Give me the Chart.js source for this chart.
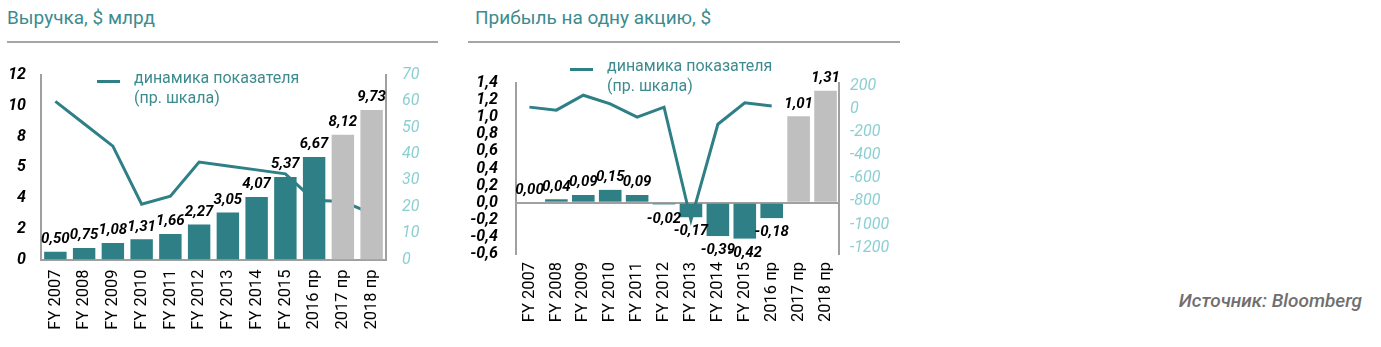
<!DOCTYPE html>
<html><head><meta charset="utf-8">
<script src="https://cdn.jsdelivr.net/npm/chart.js@4.4.0/dist/chart.umd.min.js"></script>
<style>
body{margin:0;width:1381px;height:347px;background:#fff;font-family:Roboto,sans-serif;position:relative;overflow:hidden}
.title{position:absolute;top:7px;font-size:19px;line-height:22px;color:#3d8b8f;white-space:nowrap}
.rule{position:absolute;top:41px;height:2px;background:#a6a6a6}
.box{position:absolute;top:60px;width:440px;height:287px}
.legend{position:absolute;font-size:16px;color:#3d8b8f;line-height:20px;padding-left:37px;white-space:nowrap;z-index:2}
.legend .ln{position:absolute;left:0;top:12px;width:23px;height:3px;background:#2e7f86}
.source{position:absolute;right:19px;top:290px;font-size:19px;line-height:22px;font-style:italic;font-weight:500;color:#6f6f6f}
</style></head>
<body>
<div class="title" style="left:7px">Выручка, $ млрд</div>
<div class="rule" style="left:7px;width:431px"></div>
<div class="title" style="left:475px">Прибыль на одну акцию, $</div>
<div class="rule" style="left:468px;width:432px"></div>
<div class="box" style="left:0"><canvas id="c1"></canvas></div>
<div class="box" style="left:460px"><canvas id="c2"></canvas></div>
<div class="legend" style="left:97px;top:68px"><div class="ln"></div>динамика показателя<br>(пр. шкала)</div>
<div class="legend" style="left:570px;top:56px"><div class="ln"></div>динамика показателя<br>(пр. шкала)</div>
<div class="source">Источник: Bloomberg</div>
<script>
const categories = ['FY 2007','FY 2008','FY 2009','FY 2010','FY 2011','FY 2012','FY 2013','FY 2014','FY 2015','2016 пр','2017 пр','2018 пр'];
const revenueValues = [0.50,0.75,1.08,1.31,1.66,2.27,3.05,4.07,5.37,6.67,8.12,9.73];
const revenueGrowth = [60,51.5,43,21,24,37,35.5,34,32.5,22.5,22,17.5];
const revenueTickValues = [0,2,4,6,8,10,12];
const revenueTickLabels = ['0','2','4','5','8','10','12'];
const revenueRightTicks = [0,10,20,30,40,50,60,70];
const epsValues = [0.00,0.04,0.09,0.15,0.09,-0.02,-0.17,-0.39,-0.42,-0.18,1.01,1.31];
const epsGrowth = [17,-9,120,45,-69,17,-961,-131,54,26,null,null];
const epsTickValues = [-0.6,-0.4,-0.2,0,0.2,0.4,0.6,0.8,1.0,1.2,1.4];
const epsRightTicks = [-1200,-1000,-800,-600,-400,-200,0,200];
const forecastFrom = 10;

const TEAL = '#2e7f86', GRAY = '#bfbfbf', AXIS = '#a0a0a0', RT = '#8ccfd3';
const FONT = 'Roboto';

const fmt = (v, d) => (Math.abs(v) < 1e-9 ? 0 : v).toFixed(d).replace('.', ',');

const barLabels = {
  id: 'barLabels',
  afterDatasetsDraw(chart) {
    const ctx = chart.ctx;
    const meta = chart.getDatasetMeta(0);
    const data = chart.data.datasets[0].data;
    ctx.save();
    ctx.font = 'italic bold 15px ' + FONT;
    ctx.fillStyle = '#000';
    ctx.textAlign = 'center';
    meta.data.forEach((el, i) => {
      const v = data[i];
      if (v < 0) { ctx.textBaseline = 'top'; ctx.fillText(fmt(v, 2), el.x, el.y + 7); }
      else { ctx.textBaseline = 'bottom'; ctx.fillText(fmt(v, 2), el.x, el.y - 5); }
    });
    ctx.restore();
  }
};

function noPad(s) { s.paddingTop = 0; s.paddingBottom = 0; }

function makeChart(id, bars, line, leftTicks, leftLabel, leftMin, leftMax, rightTicks, rightMin, rightMax, geo, zeroLine) {
  return new Chart(document.getElementById(id), {
    type: 'bar',
    data: {
      labels: categories,
      datasets: [
        { type: 'bar', data: bars, yAxisID: 'y', order: 0,
          backgroundColor: ctx => ctx.dataIndex >= forecastFrom ? GRAY : TEAL,
          barPercentage: geo.bp, categoryPercentage: 1 },
        { type: 'line', data: line, yAxisID: 'y1', order: 1,
          borderColor: TEAL, borderWidth: 3, pointRadius: 0, tension: 0, fill: false }
      ]
    },
    options: {
      responsive: false, animation: false,
      layout: { padding: { top: geo.top, left: 0, right: 0, bottom: 0 } },
      plugins: { legend: { display: false }, tooltip: { enabled: false } },
      scales: {
        x: {
          grid: { display: false, drawTicks: false },
          border: { display: !zeroLine, color: AXIS, width: 2 },
          ticks: { autoSkip: false, maxRotation: 90, minRotation: 90, padding: geo.xpad, color: '#000', font: { family: FONT, size: 16.5 } },
          afterFit: s => { s.height = geo.xh; }
        },
        y: {
          position: 'left', min: leftMin, max: leftMax,
          grid: zeroLine ? { display: true, drawTicks: false, lineWidth: 2, color: c => (c.tick && Math.abs(c.tick.value) < 1e-9) ? AXIS : 'rgba(0,0,0,0)' } : { display: false, drawTicks: false },
          border: { display: true, color: AXIS, width: 2 },
          afterBuildTicks: s => { s.ticks = leftTicks.map(v => ({ value: v })); },
          ticks: { autoSkip: false, padding: geo.lpad, color: '#000', font: { family: FONT, size: 16, style: 'italic', weight: 'bold' },
            callback: (v, i) => leftLabel(v, i) },
          afterFit: s => { s.width = geo.lw; noPad(s); }
        },
        y1: {
          position: 'right', min: rightMin, max: rightMax,
          grid: { display: false, drawTicks: false },
          border: { display: true, color: AXIS, width: 2 },
          afterBuildTicks: s => { s.ticks = rightTicks.map(v => ({ value: v })); },
          ticks: { autoSkip: false, padding: geo.rpad, color: RT, font: { family: FONT, size: 16, style: 'italic' },
            callback: v => String(v) },
          afterFit: s => { s.width = geo.rw; noPad(s); }
        }
      }
    },
    plugins: [barLabels]
  });
}

function sizeCanvas(id) { const c = document.getElementById(id); c.width = 440; c.height = 287; c.style.width = '440px'; c.style.height = '287px'; }
sizeCanvas('c1'); sizeCanvas('c2');

makeChart('c1', revenueValues, revenueGrowth, revenueTickValues, (v, i) => revenueTickLabels[i], 0, 12,
  revenueRightTicks, 0, 70, { bp: 0.78, top: 15, xh: 87.5, lw: 41, rw: 54, lpad: 15, rpad: 16, xpad: 10 }, false);

makeChart('c2', epsValues, epsGrowth, epsTickValues, v => fmt(v, 1), -0.6, 1.4,
  epsRightTicks, -1255, 226, { bp: 0.84, top: 23, xh: 93, lw: 56, rw: 61, lpad: 18, rpad: 11, xpad: 8 }, true);
</script>
</body></html>
